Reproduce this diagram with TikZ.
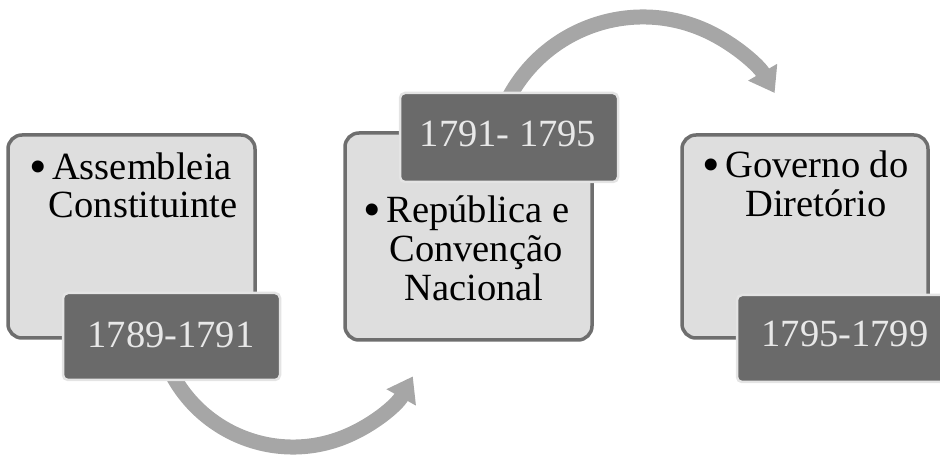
\documentclass[tikz,border=0pt]{standalone}
\usepackage{fontspec}
\setmainfont{Liberation Serif}
\usetikzlibrary{arrows.meta,calc}
\definecolor{boxfill}{HTML}{DEDEDE}
\definecolor{boxline}{HTML}{6E6E6E}
\definecolor{datefill}{HTML}{6A6A6A}
\definecolor{dateline}{HTML}{E4E4E4}
\definecolor{datetext}{HTML}{E8E8E8}
\definecolor{arrowgray}{HTML}{A6A6A6}
\tikzset{
  mainbox/.style={draw=boxline, fill=boxfill, line width=3.5pt, rounded corners=14pt},
  datebox/.style={draw=dateline, fill=datefill, line width=2.5pt, rounded corners=5pt},
  txt/.style={inner sep=0pt, font=\fontsize{38.5}{44}\selectfont, text=black, anchor=base},
  datetxt/.style={inner sep=0pt, font=\fontsize{38.5}{44}\selectfont, text=datetext, anchor=base},
  bul/.style={inner sep=0pt, font=\fontsize{50}{56}\selectfont, text=black, anchor=base east},
  flowarrow/.style={draw=arrowgray, line width=15pt, -{Triangle[width=32pt,length=24pt]}}
}
\begin{document}
\begin{tikzpicture}[x=1pt,y=1pt]
\useasboundingbox (0,0) rectangle (940,457);
% arrows (behind)
\coordinate (c1) at (293,147);
\coordinate (a1s) at ($(c1)+(200:137)$);
\coordinate (c2) at (643,288);
\coordinate (a2s) at ($(c2)+(155:152)$);
\draw[flowarrow] (a1s) arc[start angle=200, end angle=331, radius=137];
\draw[flowarrow] (a2s) arc[start angle=155, end angle=30, radius=152];
% boxes
\path[mainbox] (8,119) rectangle (255,322);
\node[datebox, minimum width=217pt, minimum height=87pt, inner sep=0pt] (d1) at (171.5,120.5) {};
\path[mainbox] (345,117) rectangle (592,324);
\node[datebox, minimum width=218pt, minimum height=89pt, inner sep=0pt] (d2) at (509,319.5) {};
\path[mainbox] (682,119) rectangle (928,322);
\node[datebox, minimum width=218pt, minimum height=87pt, inner sep=0pt] (d3) at (846,118.5) {};
% texts
\node[txt] (t1a) at (142,277) {Assembleia};
\node[txt] (t1b) at (143,239) {Constituinte};
\node[bul] (b1) at ([xshift=-5pt,yshift=-4pt]t1a.base west) {•};
\node[txt] (t2a) at (478,234) {República e};
\node[txt] (t2b) at (476,195) {Convenção};
\node[txt] (t2c) at (474,156) {Nacional};
\node[bul] (b2) at ([xshift=-5pt,yshift=-4pt]t2a.base west) {•};
\node[txt] (t3a) at (817,279) {Governo do};
\node[txt] (t3b) at (816,240) {Diretório};
\node[bul] (b3) at ([xshift=-5pt,yshift=-4pt]t3a.base west) {•};
\node[datetxt] (dt1) at (171,109) {1789-1791};
\node[datetxt] (dt2) at (508,310) {1791- 1795};
\node[datetxt] (dt3) at (845,110) {1795-1799};
\end{tikzpicture}
\end{document}
